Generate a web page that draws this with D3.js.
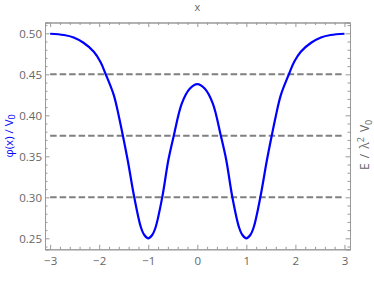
<!DOCTYPE html>
<html>
<head>
<meta charset="utf-8">
<script src="https://cdn.jsdelivr.net/npm/d3@7"></script>
<style>
  body { margin: 0; background: #fff; }
  svg text { font-family: 'Open Sans', sans-serif; }
</style>
</head>
<body>
<svg id="chart" width="374" height="291"></svg>
<script>
// curve: potential phi(x)/V0
const xs  = [-3, -2.72, -2.52, -2.32, -2.11, -1.976, -1.873, -1.704, -1.6, -1.52, -1.415, -1.285, -1.15, -1.08, -1, -0.92, -0.85, -0.715, -0.59, -0.48, -0.315, -0.15, 0,
             0.15, 0.315, 0.48, 0.59, 0.715, 0.85, 0.92, 1, 1.08, 1.15, 1.285, 1.415, 1.52, 1.6, 1.704, 1.873, 1.976, 2.11, 2.32, 2.52, 2.72, 3];
const phi = [0.4995, 0.498, 0.495, 0.4885, 0.4776, 0.4654, 0.451, 0.425, 0.399, 0.376, 0.344, 0.300, 0.2635, 0.254, 0.250, 0.254, 0.2635, 0.300, 0.3455, 0.375, 0.4146, 0.4327, 0.438,
             0.4327, 0.4146, 0.375, 0.3455, 0.300, 0.2635, 0.254, 0.250, 0.254, 0.2635, 0.300, 0.344, 0.376, 0.399, 0.425, 0.451, 0.4654, 0.4776, 0.4885, 0.495, 0.498, 0.4995];
// energy levels (dashed)
const levels = [0.30, 0.375, 0.45];
const xTicks = [-3, -2, -1, 0, 1, 2, 3];
const yTicks = [0.25, 0.30, 0.35, 0.40, 0.45, 0.50];

const margin = {top: 22.5, right: 24, bottom: 41.7, left: 45};
const width = 374 - margin.left - margin.right;
const height = 291 - margin.top - margin.bottom;
const frameColor = '#999';
const labelColor = '#666';

let svg = d3.select('#chart');
let g = svg.append('g')
  .attr('transform', 'translate(' + margin.left + ',' + margin.top + ')');

let x = d3.scaleLinear().domain([-3.105, 3.113]).range([0, width]);
let y = d3.scaleLinear().domain([0.2366, 0.5132]).range([height, 0]);

// minor tick values
let xMinor = d3.range(-3, 3.001, 0.2).filter(v => Math.abs(v - Math.round(v)) > 1e-6);
let yMinor = d3.range(0.24, 0.511, 0.01).filter(v => Math.abs(v * 20 - Math.round(v * 20)) > 1e-6);

function styleAxis(sel) {
  sel.selectAll('path').attr('stroke', frameColor).attr('stroke-width', 1);
  sel.selectAll('line').attr('stroke', frameColor).attr('stroke-width', 1);
  sel.selectAll('text').attr('fill', labelColor).style('font-size', '11.5px');
}

// bottom axis
g.append('g')
  .attr('transform', 'translate(0,' + height + ')')
  .call(d3.axisBottom(x).tickValues(xTicks).tickSize(-4.5).tickPadding(8)
    .tickFormat(d => d < 0 ? '\u2212' + Math.abs(d) : d))
  .call(styleAxis);
g.append('g')
  .attr('transform', 'translate(0,' + height + ')')
  .call(d3.axisBottom(x).tickValues(xMinor).tickSize(-2.5).tickFormat(''))
  .call(styleAxis);

// top axis (no labels)
g.append('g')
  .call(d3.axisTop(x).tickValues(xTicks).tickSize(-4.5).tickFormat(''))
  .call(styleAxis);
g.append('g')
  .call(d3.axisTop(x).tickValues(xMinor).tickSize(-2.5).tickFormat(''))
  .call(styleAxis);

// left axis
g.append('g')
  .call(d3.axisLeft(y).tickValues(yTicks).tickSize(-4.5).tickPadding(3)
    .tickFormat(d3.format('.2f')))
  .call(styleAxis);
g.append('g')
  .call(d3.axisLeft(y).tickValues(yMinor).tickSize(-2.5).tickFormat(''))
  .call(styleAxis);

// right axis (no labels)
g.append('g')
  .attr('transform', 'translate(' + width + ',0)')
  .call(d3.axisRight(y).tickValues(yTicks).tickSize(-4.5).tickFormat(''))
  .call(styleAxis);
g.append('g')
  .attr('transform', 'translate(' + width + ',0)')
  .call(d3.axisRight(y).tickValues(yMinor).tickSize(-2.5).tickFormat(''))
  .call(styleAxis);

// energy levels
g.selectAll('.level')
  .data(levels)
  .enter().append('line')
  .attr('class', 'level')
  .attr('x1', x(-3))
  .attr('x2', x(3))
  .attr('y1', d => y(d))
  .attr('y2', d => y(d))
  .attr('stroke', '#808080')
  .attr('stroke-width', 2)
  .attr('stroke-dasharray', '6.5,3');

// potential curve
let line = d3.line()
  .x(d => x(d[0]))
  .y(d => y(d[1]))
  .curve(d3.curveCatmullRom.alpha(0.5));

g.append('path')
  .datum(d3.zip(xs, phi))
  .attr('fill', 'none')
  .attr('stroke', '#0000ff')
  .attr('stroke-width', 2.2)
  .attr('d', line);

// frame labels
svg.append('text')
  .attr('x', margin.left + x(0))
  .attr('y', 11)
  .attr('text-anchor', 'middle')
  .attr('fill', labelColor)
  .style('font-size', '11px')
  .text('x');

let yl = svg.append('text')
  .attr('transform', 'translate(12.5,' + (margin.top + height / 2) + ') rotate(-90)')
  .attr('text-anchor', 'middle')
  .attr('fill', '#0000ff')
  .style('font-size', '11.5px');
yl.append('tspan').text('\u03c6(x)  / V');
yl.append('tspan').attr('dy', 2.5).style('font-size', '9px').text('0');

let rl = svg.append('text')
  .attr('transform', 'translate(369,' + (margin.top + height / 2 + 9) + ') rotate(-90)')
  .attr('text-anchor', 'middle')
  .attr('fill', labelColor)
  .style('font-size', '12px')
  .style('word-spacing', '2px');
rl.append('tspan').text('E / \u03bb');
rl.append('tspan').attr('dy', -5).style('font-size', '9px').text('2');
rl.append('tspan').attr('dy', 5).text(' V');
rl.append('tspan').attr('dy', 2.5).style('font-size', '9px').text('0');
</script>
</body>
</html>
